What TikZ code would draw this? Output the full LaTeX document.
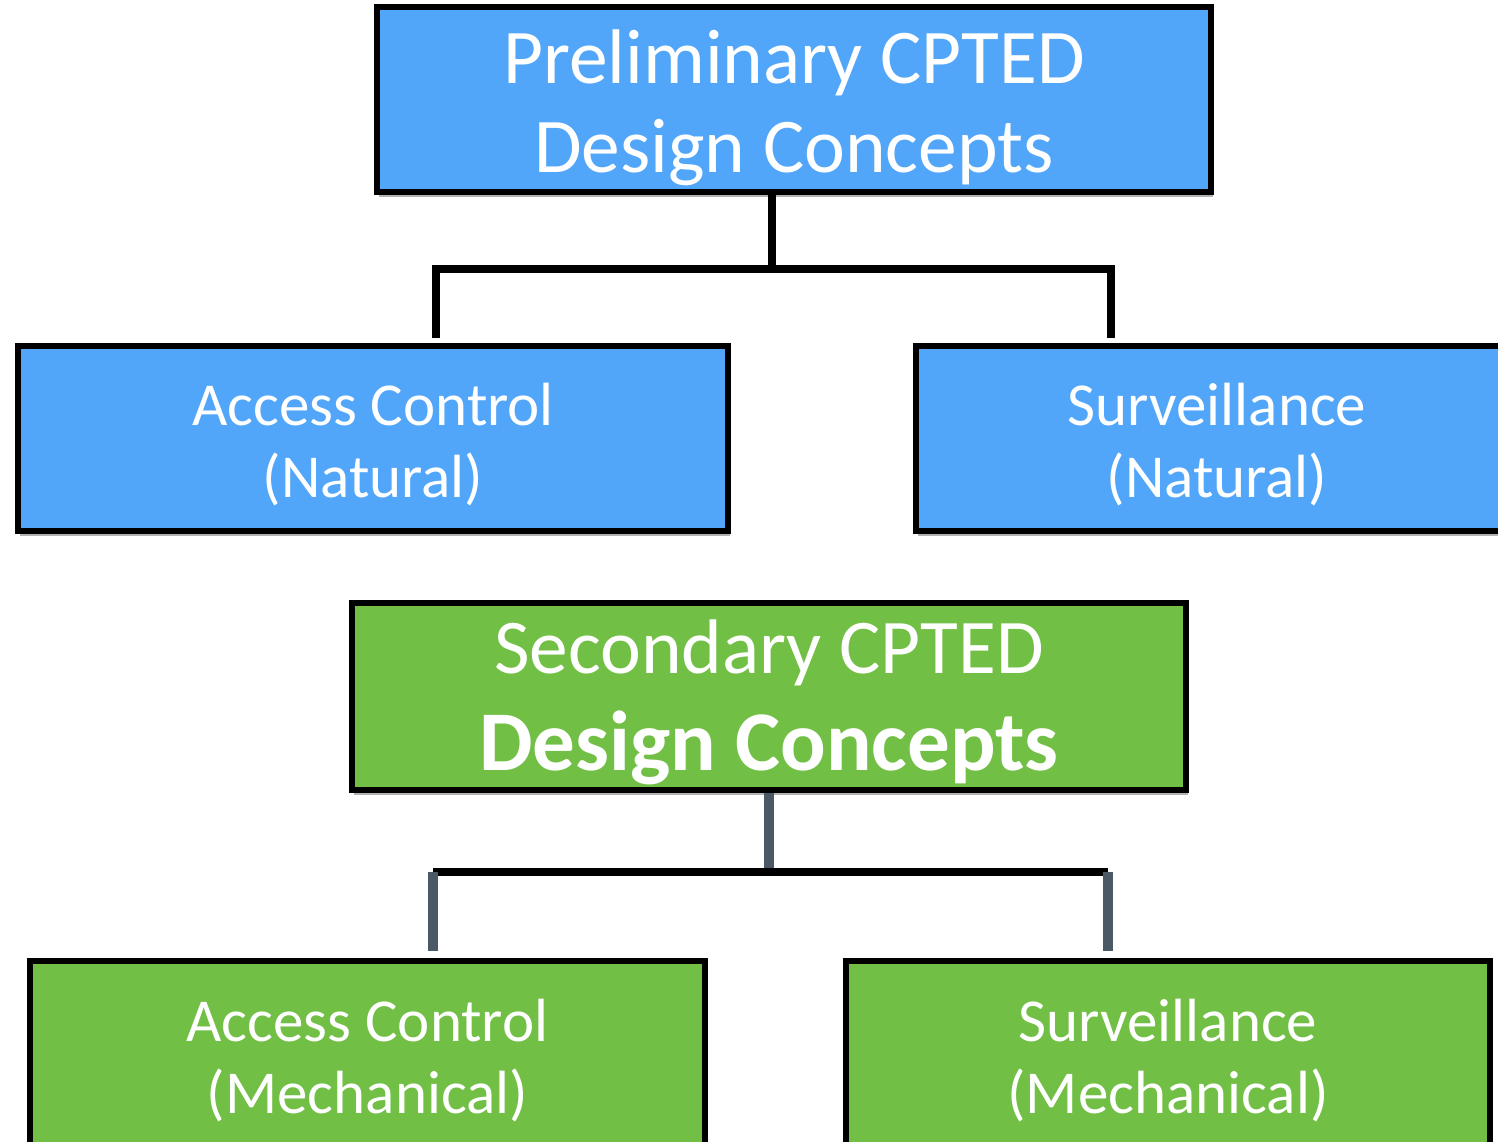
\documentclass[tikz,border=0pt]{standalone}
\usepackage{fontspec}
\setmainfont{Carlito}
\usetikzlibrary{shadows}

\definecolor{boxblue}{RGB}{82,166,249}
\definecolor{boxgreen}{RGB}{113,191,68}
\definecolor{legslate}{RGB}{75,89,102}

\begin{document}
\begin{tikzpicture}[x=0.5pt,y=-0.5pt,
        cbox/.style={draw=black,line width=2.75pt,align=center,text=white,inner sep=0pt,text depth=0pt,
            drop shadow={shadow xshift=1pt,shadow yshift=-2.5pt,fill=black,opacity=.3}},
        bigfont/.style={font=\fontsize{38.7}{44.5}\selectfont,text height=72.5pt},
        smallfont/.style={font=\fontsize{30.5}{36}\selectfont,text height=59pt},
        bar/.style={line width=4pt,line join=miter},
        leg/.style={line width=5pt,draw=legslate}]

        \useasboundingbox (0,0) rectangle (1498,1141);
        \clip (0,0) rectangle (1498,1141);

        % natural concepts
        \node[cbox,fill=boxblue,bigfont,minimum width=417pt,minimum height=92.5pt] (prelim) at (794,99.5)
            {Preliminary CPTED\\Design Concepts};
        \node[cbox,fill=boxblue,smallfont,minimum width=355pt,minimum height=92.5pt] (natacc) at (373,438.5)
            {Access Control\\(Natural)};
        \node[cbox,fill=boxblue,smallfont,minimum width=301pt,minimum height=92.5pt] (natsurv) at (1217,438.5)
            {Surveillance\\(Natural)};

        \coordinate (hubA) at (772,269);
        \coordinate (legAL) at (436,338);
        \coordinate (legAR) at (1111,338);
        \draw[bar] (prelim.south -| hubA) -- (hubA);
        \draw[bar] (legAL) -- (legAL |- hubA) -- (legAR |- hubA) -- (legAR);

        % mechanical concepts
        \node[cbox,fill=boxgreen,bigfont,text height=73.5pt,minimum width=417pt,minimum height=93.5pt] (second) at (769,696.5)
            {Secondary CPTED\\[4pt]{\fontsize{42.5}{48}\selectfont\bfseries Design Concepts}};
        \node[cbox,fill=boxgreen,smallfont,text height=59.5pt,minimum width=337.5pt,minimum height=92.5pt] (mechacc) at (367.5,1053.5)
            {Access Control\\(Mechanical)};
        \node[cbox,fill=boxgreen,smallfont,text height=59.5pt,minimum width=322pt,minimum height=92.5pt] (mechsurv) at (1168,1053.5)
            {Surveillance\\(Mechanical)};

        \coordinate (hubB) at (769,872);
        \coordinate (legBL) at (433,951);
        \coordinate (legBR) at (1108,951);
        \draw[leg] (second.south -| hubB) -- (hubB);
        \draw[bar] (legBL |- hubB) -- (legBR |- hubB);
        \draw[leg] (legBL |- hubB) -- (legBL);
        \draw[leg] (legBR |- hubB) -- (legBR);
    \end{tikzpicture}
\end{document}
